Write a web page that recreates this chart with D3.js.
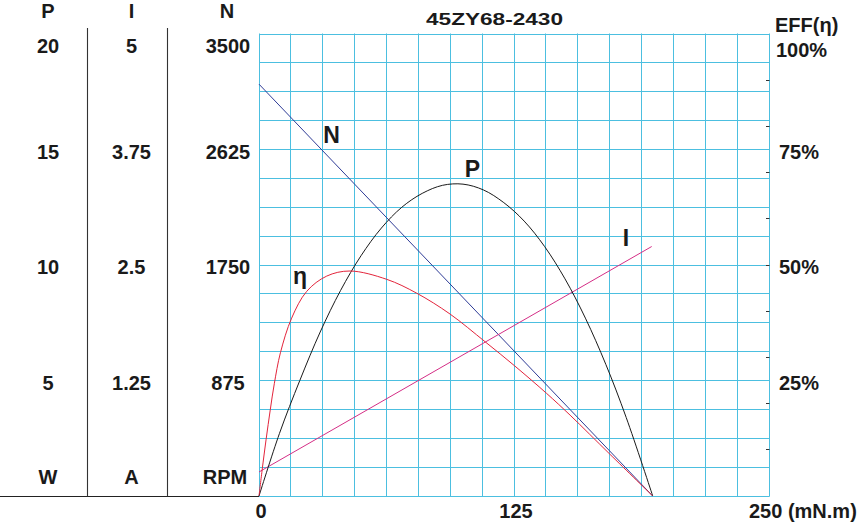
<!DOCTYPE html>
<html>
<head>
<meta charset="utf-8">
<script src="https://cdn.jsdelivr.net/npm/d3@7"></script>
<style>
  html, body { margin: 0; padding: 0; background: #fff; }
  svg { display: block; }
  text { font-family: "Liberation Sans", Arial, Helvetica, sans-serif; font-weight: bold; fill: #1a1a1a; }
</style>
</head>
<body>
<svg id="chart" width="858" height="523"></svg>
<script>
// ---------------- data ----------------
const title = "45ZY68-2430";
const torqueTicks = [0, 125, 250];
const torqueUnit = "(mN.m)";
const powerTicks = [20, 15, 10, 5];
const currentTicks = ["5", "3.75", "2.5", "1.25"];
const speedTicks = [3500, 2625, 1750, 875];
const effTicks = [100, 75, 50, 25];
const columnHeads = ["P", "I", "N"];
const columnUnits = ["W", "A", "RPM"];

// N (RPM) vs torque
const speedTorque = [0, 193];
const speedValues = [3120, 0];
// I (A) vs torque
const currentTorque = [0, 192.5];
const currentValues = [0.26, 2.70];
// P (W) vs torque
const powerTorque = [0, 10, 20, 30, 40, 50, 60, 70, 80, 90, 100, 110, 120, 130, 140, 150, 160, 170, 180, 193];
const powerValues = [0, 2.7, 5.0, 7.1, 8.9, 10.4, 11.6, 12.5, 13.1, 13.45, 13.5, 13.25, 12.7, 11.9, 10.8, 9.4, 7.7, 5.7, 3.4, 0];
// Efficiency (%) vs torque
const effTorque = [0, 1.5, 3.5, 5.5, 7.5, 10.5, 16.0, 23.4, 33.2, 44.6, 62.6, 77.3, 93.6, 110.8, 125.5, 141.0, 152.5, 172.1, 193];
const effValues = [0, 5.5, 12.3, 18.6, 24.3, 31, 38.5, 44.3, 47.6, 48.7, 46.9, 43.9, 39.4, 33.4, 28.1, 22.2, 17.5, 9.0, 0];

// ---------------- layout ----------------
const svg = d3.select("#chart");
const L = 259, R = 769, T = 34, B = 496;
const x = d3.scaleLinear().domain([0, 250]).range([L, R]);
const yN = d3.scaleLinear().domain([0, 3500]).range([B, T]);
const yP = d3.scaleLinear().domain([0, 20]).range([B, T]);
const yI = d3.scaleLinear().domain([0, 5]).range([B, T]);
const yE = d3.scaleLinear().domain([0, 100]).range([B, T]);

const gridColor = "#4cbfe0";
const snap = v => Math.round(v - 0.5) + 0.5;

// grid
const g = svg.append("g");
const nCols = 16, nRows = 16;
g.selectAll("line.v").data(d3.range(nCols + 1)).join("line")
  .attr("x1", d => snap(x(d * 250 / nCols))).attr("x2", d => snap(x(d * 250 / nCols)))
  .attr("y1", T - 0.5).attr("y2", B + 0.5)
  .attr("stroke", gridColor).attr("stroke-width", 1);
g.selectAll("line.h").data(d3.range(nRows + 1)).join("line")
  .attr("y1", d => snap(yN(d * 3500 / nRows))).attr("y2", d => snap(yN(d * 3500 / nRows)))
  .attr("x1", L).attr("x2", R + 0.5)
  .attr("stroke", gridColor).attr("stroke-width", 1);

// small efficiency ticks on the right edge (every 10%)
g.selectAll("line.et").data(d3.range(10, 100, 10)).join("line")
  .attr("x1", R - 3).attr("x2", R + 0.5)
  .attr("y1", d => snap(yE(d))).attr("y2", d => snap(yE(d)))
  .attr("stroke", "#333").attr("stroke-width", 1);

// left table lines
svg.append("line").attr("x1", 0).attr("x2", L).attr("y1", B + 0.5).attr("y2", B + 0.5)
  .attr("stroke", "#222").attr("stroke-width", 1.2);
[87.5, 167.5].forEach(px => {
  svg.append("line").attr("x1", px).attr("x2", px).attr("y1", 28).attr("y2", B + 0.5)
    .attr("stroke", "#333").attr("stroke-width", 1.1);
});

// ---------------- curves ----------------
const lineGen = (tArr, vArr, ys, curve) => d3.line()
  .x((d, i) => x(tArr[i])).y((d, i) => ys(vArr[i])).curve(curve)(vArr);

svg.append("path").attr("d", lineGen(speedTorque, speedValues, yN, d3.curveLinear))
  .attr("fill", "none").attr("stroke", "#2e3b96").attr("stroke-width", 1);
svg.append("path").attr("d", lineGen(currentTorque, currentValues, yI, d3.curveLinear))
  .attr("fill", "none").attr("stroke", "#d42e86").attr("stroke-width", 1);
svg.append("path").attr("d", lineGen(powerTorque, powerValues, yP, d3.curveCatmullRom.alpha(0.5)))
  .attr("fill", "none").attr("stroke", "#1a1a1a").attr("stroke-width", 1);
svg.append("path").attr("d", lineGen(effTorque, effValues, yE, d3.curveCatmullRom.alpha(0.5)))
  .attr("fill", "none").attr("stroke", "#e3243b").attr("stroke-width", 1);

// curve labels
const curveLabels = [
  { t: "N", x: 331.5, y: 142.5 },
  { t: "P", x: 472.5, y: 177 },
  { t: "I", x: 626, y: 245.5 },
  { t: "η", x: 300, y: 284 }
];
svg.selectAll("text.cl").data(curveLabels).join("text")
  .attr("x", d => d.x).attr("y", d => d.y).attr("text-anchor", "middle")
  .attr("font-size", 23).text(d => d.t);

// ---------------- axis text ----------------
const fs = 20;
const colX = [48, 131.5, 227];
// headers
columnHeads.forEach((h, i) => {
  svg.append("text").attr("x", colX[i]).attr("y", 18).attr("text-anchor", "middle")
    .attr("font-size", fs).text(h);
});
// units
columnUnits.forEach((u, i) => {
  svg.append("text").attr("x", colX[i] - (i === 2 ? 2 : 0)).attr("y", 484).attr("text-anchor", "middle")
    .attr("font-size", fs).text(u);
});
const labelY = v => Math.max(yN(v) + 9, 52.5);
svg.selectAll("text.pl").data(powerTicks).join("text")
  .attr("x", colX[0]).attr("y", d => labelY(d / 20 * 3500)).attr("text-anchor", "middle")
  .attr("font-size", fs).text(d => d);
svg.selectAll("text.il").data(currentTicks).join("text")
  .attr("x", colX[1]).attr("y", d => labelY(+d / 5 * 3500)).attr("text-anchor", "middle")
  .attr("font-size", fs).text(d => d);
svg.selectAll("text.nl").data(speedTicks).join("text")
  .attr("x", colX[2] + 1).attr("y", d => labelY(d)).attr("text-anchor", "middle")
  .attr("font-size", fs).text(d => d);
svg.selectAll("text.el").data(effTicks).join("text")
  .attr("x", d => d === 100 ? 776 : 779).attr("y", d => Math.max(yE(d) + 9, 56.5)).attr("text-anchor", "start")
  .attr("font-size", fs).text(d => d + "%");
svg.append("text").attr("x", 775).attr("y", 31.5).attr("font-size", fs).text("EFF(η)");

// x axis labels
svg.selectAll("text.xl").data(torqueTicks).join("text")
  .attr("x", d => d === 250 ? 749 : x(d) + 2)
  .attr("y", 518)
  .attr("text-anchor", d => d === 250 ? "start" : "middle")
  .attr("font-size", fs).text(d => d === 250 ? d + " " + torqueUnit : d);

// title
svg.append("text").attr("x", 426).attr("y", 25).attr("font-size", 16)
  .attr("textLength", 137).attr("lengthAdjust", "spacingAndGlyphs").text(title);
</script>
</body>
</html>
